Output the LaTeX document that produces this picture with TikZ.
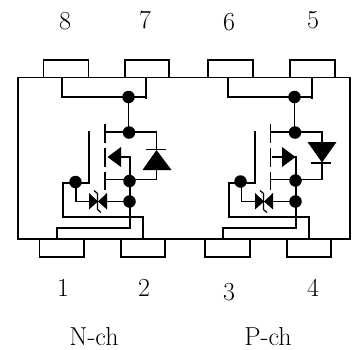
\documentclass[tikz,border=0pt]{standalone}
\tikzset{
  wire/.style={line width=1.5pt,line cap=butt,line join=miter},
  pad/.style={wire,fill=white},
  solid dot/.style={circle,fill=black,draw=none,minimum size=12.5pt,inner sep=0pt},
  lab/.style={font=\fontsize{26}{26}\selectfont,inner sep=0pt,anchor=base},
  filled/.style={fill=black,draw=none}
}
\begin{document}
\begin{tikzpicture}[x=1pt,y=-1pt]
\useasboundingbox (0,0) rectangle (359,349);
% package
\draw[wire] (18,77.5) rectangle (350,239);
\foreach \n/\a/\b in {p8/43.5/88.5,p7/125/169,p6/208/253,p5/290/335}
  \draw[pad] (\a,60) rectangle (\b,77.5) coordinate (\n);
\foreach \n/\a/\b in {p1/39.5/84,p2/121/165,p3/205/250}
  \draw[pad] (\a,239) rectangle (\b,257) coordinate (\n);
\draw[pad,line width=1.9pt] (287,239) rectangle (331,257);
% left channel
\begin{scope}
\draw[wire] (62,77.5) |- (146,97);
\draw[wire] (146,77.5) -- (146,98.5);
\draw[wire] (128.5,97) -- (128.5,132);
\draw[wire] (105,132) -- (156.5,132) -- (156.5,150);
\draw[wire] (156.5,168) -- (156.5,179.5) -- (105,179.5);
\foreach \a/\b in {123.5/142.5,148/167,172/190} \draw[wire] (105,\a) -- (105,\b);
\draw[wire] (89,131) -- (89,183) -- (63,183) -- (63,217) -- (143,217) -- (143,239);
\draw[wire] (76,183) -- (76,201.5) -- (130,201.5);
\draw[wire] (120,157) -- (130,157) -- (130,228) -- (57,228) -- (57,239);
\filldraw[filled] (107.5,157) -- (121,147) -- (121,167) -- cycle;
\draw[wire] (146,149.5) -- (166,149.5);
\filldraw[filled] (156.5,150) -- (171.5,170) -- (142.5,170) -- cycle;
\filldraw[filled] (89,193) -- (98,201.5) -- (89,209.5) -- cycle;
\filldraw[filled] (107,193) -- (98,201.5) -- (107,209.5) -- cycle;
\draw[line width=1.2pt] (94,190.5) -- (97.5,193.5) -- (97.5,209.5) -- (101,212.5);
\node[solid dot] (d1) at (128.5,97) {};
\node[solid dot] (d2) at (129,132.5) {};
\node[solid dot] (d3) at (129.5,181) {};
\node[solid dot] (d4) at (129.5,201.5) {};
\node[solid dot] (d5) at (75.5,182) {};
\end{scope}
% right channel
\begin{scope}
\draw[wire] (228,77.5) |- (312,97);
\draw[wire] (312,77.5) -- (312,98.5);
\draw[wire] (294.5,97) -- (294.5,132);
\draw[wire] (270.5,132) -- (322,132) -- (322,142);
\draw[wire] (322,162) -- (322,179.5) -- (270.5,179.5);
\foreach \a/\b in {123.5/142.5,148/167,172/190} \draw[wire] (270.5,\a) -- (270.5,\b);
\draw[wire] (255,131) -- (255,183) -- (229,183) -- (229,217) -- (309,217) -- (309,239);
\draw[wire] (241.5,183) -- (241.5,201.5) -- (296,201.5);
\draw[wire] (272,157) -- (283,157);
\draw[wire] (294,157) -- (296,157) -- (296,228) -- (223,228) -- (223,239);
\filldraw[filled] (295.5,157) -- (282,147) -- (282,167) -- cycle;
\draw[wire] (311,163) -- (331,163);
\filldraw[filled] (322,162.5) -- (336.5,142) -- (307.5,142) -- cycle;
\filldraw[filled] (255,193) -- (264,201.5) -- (255,209.5) -- cycle;
\filldraw[filled] (273,193) -- (264,201.5) -- (273,209.5) -- cycle;
\draw[line width=1.2pt] (260,190.5) -- (263.5,193.5) -- (263.5,209.5) -- (267,212.5);
\node[solid dot] (d6) at (294.5,97) {};
\node[solid dot] (d7) at (295,132.5) {};
\node[solid dot] (d8) at (295.5,180.5) {};
\node[solid dot] (d9) at (295.5,201.5) {};
\node[solid dot] (d10) at (240.5,181.5) {};
\end{scope}
% labels
\foreach \t/\x/\y in {8/65/29,7/145/28.5,6/229/30,5/313/28.5,1/63/296,2/144/296,3/229/300,4/313/296}
  \node[lab] (n\t) at (\x,\y) {\t};
\node[lab] (nch) at (94,345.5) {N-ch};
\node[lab] (pch) at (268,345.5) {P-ch};
\end{tikzpicture}
\end{document}
